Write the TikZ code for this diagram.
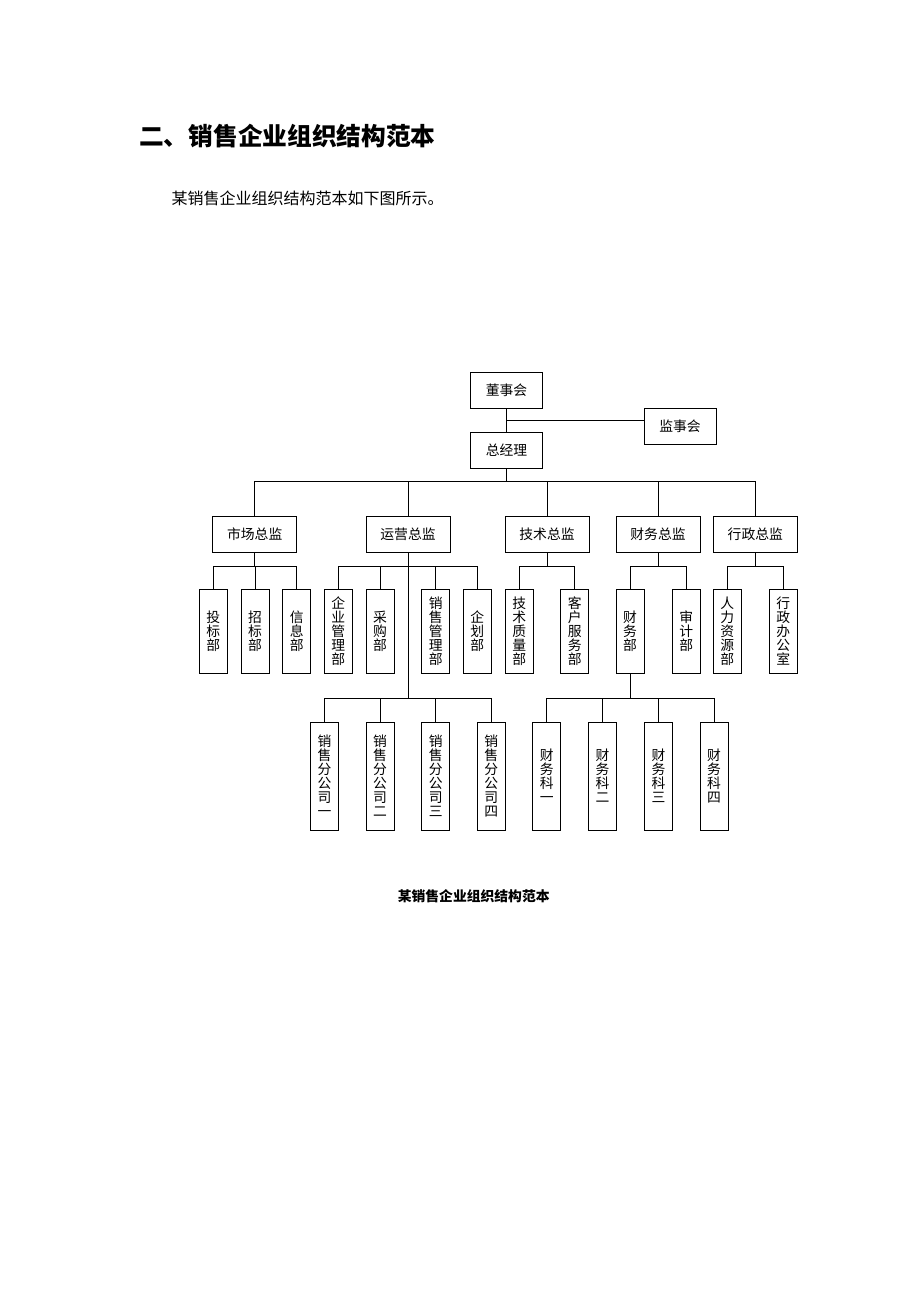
\documentclass[tikz,border=0pt]{standalone}
\usepackage{fontspec}
\setmainfont{Noto Sans CJK SC}
\newfontfamily\cjk{Noto Sans CJK SC}
\begin{document}
\begin{tikzpicture}[x=1pt,y=-1pt,
  ln/.style={line width=1pt, draw=black},
  hbox/.style={draw, line width=1pt, minimum width=72pt, minimum height=36pt, inner sep=0pt, font=\cjk\fontsize{13.8}{14}\selectfont},
  dbox/.style={hbox, minimum width=84pt},
  vbox/.style={draw, line width=1pt, minimum width=28pt, minimum height=84pt, inner sep=0pt, align=center, font=\cjk\fontsize{13.8}{14}\selectfont},
  lbox/.style={vbox, minimum height=108pt}]
\useasboundingbox (0,0) rectangle (920,1302);
\fill[white] (0,0) rectangle (920,1302);
% texts
\node[anchor=west, inner sep=0pt, font=\cjk\bfseries\fontsize{24.7}{26}\selectfont] (title) at (139,136) {二、销售企业组织结构范本};
\node[anchor=west, inner sep=0pt, font=\cjk\fontsize{16}{18}\selectfont] (intro) at (171.5,198) {某销售企业组织结构范本如下图所示。};
\node[inner sep=0pt, font=\cjk\bfseries\fontsize{13.8}{15}\selectfont] (cap) at (473.7,896) {某销售企业组织结构范本};
% top
\node[hbox] (dsh) at (506.5,390) {董事会};
\node[hbox] (zjl) at (506.5,450.5) {总经理};
\node[hbox] (jsh) at (680,426) {监事会};
\coordinate (j) at (506.5,420.7);
\draw[ln] (dsh.south) -- (zjl.north);
\draw[ln] (j) -- (jsh.west |- j);
% directors
\node[dbox] (d1) at (254.7,534.3) {市场总监};
\node[dbox] (d2) at (408,534.3) {运营总监};
\node[dbox] (d3) at (547,534.3) {技术总监};
\node[dbox] (d4) at (658,534.3) {财务总监};
\node[dbox] (d5) at (755.3,534.3) {行政总监};
\coordinate (B) at (0,481);
\draw[ln] (zjl.south) -- (zjl.south |- B);
\draw[ln] (d1.north) -- (d1.north |- B) -- (d5.north |- B) -- (d5.north);
\foreach \n in {d2,d3,d4} \draw[ln] (\n.north) -- (\n.north |- B);
% departments
\node[vbox] (a1) at (213.3,631.3) {投\\标\\部};
\node[vbox] (a2) at (255,631.3) {招\\标\\部};
\node[vbox] (a3) at (296.7,631.3) {信\\息\\部};
\node[vbox] (b1) at (338.3,631.3) {企\\业\\管\\理\\部};
\node[vbox] (b2) at (380,631.3) {采\\购\\部};
\node[vbox] (b3) at (435.7,631.3) {销\\售\\管\\理\\部};
\node[vbox] (b4) at (477.3,631.3) {企\\划\\部};
\node[vbox] (c1) at (519.2,631.3) {技\\术\\质\\量\\部};
\node[vbox] (c2) at (574.8,631.3) {客\\户\\服\\务\\部};
\node[vbox] (e1) at (630,631.3) {财\\务\\部};
\node[vbox] (e2) at (686.2,631.3) {审\\计\\部};
\node[vbox] (f1) at (727.3,631.3) {人\\力\\资\\源\\部};
\node[vbox] (f2) at (783.3,631.3) {行\\政\\办\\公\\室};
\coordinate (S) at (0,566);
\draw[ln] (d1.south) -- (d1.south |- S);
\draw[ln] (a1.north) -- (a1.north |- S) -- (a3.north |- S) -- (a3.north);
\draw[ln] (a2.north) -- (a2.north |- S);
\draw[ln] (b1.north) -- (b1.north |- S) -- (b4.north |- S) -- (b4.north);
\draw[ln] (b2.north) -- (b2.north |- S);
\draw[ln] (b3.north) -- (b3.north |- S);
\draw[ln] (d3.south) -- (d3.south |- S);
\draw[ln] (c1.north) -- (c1.north |- S) -- (c2.north |- S) -- (c2.north);
\draw[ln] (d4.south) -- (d4.south |- S);
\draw[ln] (e1.north) -- (e1.north |- S) -- (e2.north |- S) -- (e2.north);
\draw[ln] (d5.south) -- (d5.south |- S);
\draw[ln] (f1.north) -- (f1.north |- S) -- (f2.north |- S) -- (f2.north);
% lower
\node[lbox] (g1) at (324.5,776) {销\\售\\分\\公\\司\\一};
\node[lbox] (g2) at (380,776) {销\\售\\分\\公\\司\\二};
\node[lbox] (g3) at (435.7,776) {销\\售\\分\\公\\司\\三};
\node[lbox] (g4) at (491.3,776) {销\\售\\分\\公\\司\\四};
\node[lbox] (h1) at (546.8,776) {财\\务\\科\\一};
\node[lbox] (h2) at (602.5,776) {财\\务\\科\\二};
\node[lbox] (h3) at (658.5,776) {财\\务\\科\\三};
\node[lbox] (h4) at (714,776) {财\\务\\科\\四};
\coordinate (L) at (0,698);
\draw[ln] (d2.south) -- (d2.south |- L);
\draw[ln] (g1.north) -- (g1.north |- L) -- (g4.north |- L) -- (g4.north);
\draw[ln] (g2.north) -- (g2.north |- L);
\draw[ln] (g3.north) -- (g3.north |- L);
\draw[ln] (e1.south) -- (e1.south |- L);
\draw[ln] (h1.north) -- (h1.north |- L) -- (h4.north |- L) -- (h4.north);
\draw[ln] (h2.north) -- (h2.north |- L);
\draw[ln] (h3.north) -- (h3.north |- L);
\end{tikzpicture}
\end{document}
